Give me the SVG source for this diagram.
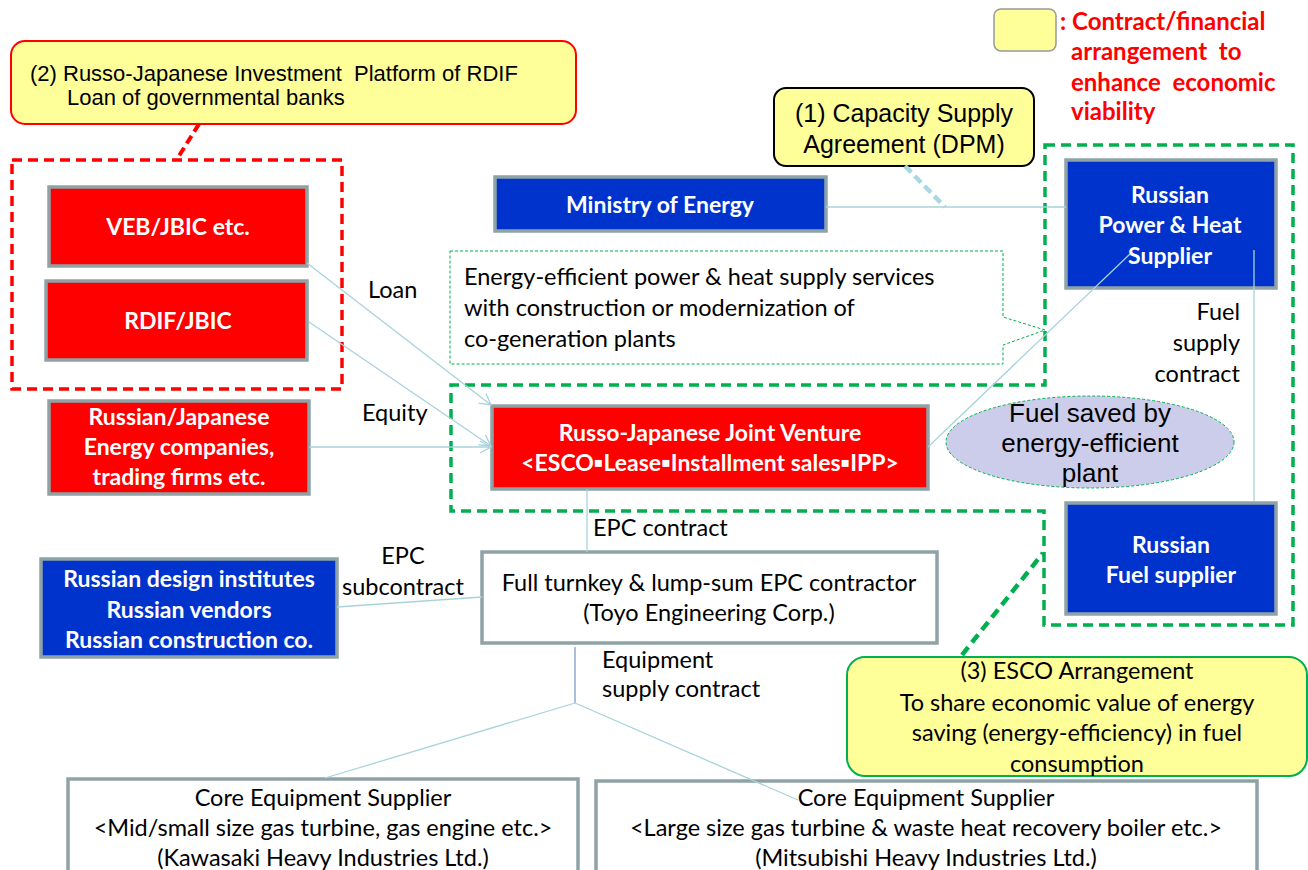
<svg xmlns="http://www.w3.org/2000/svg" width="1308" height="870" viewBox="0 0 1308 870">
<defs>
<marker id="arr" markerWidth="14" markerHeight="14" refX="12" refY="7" orient="auto" markerUnits="userSpaceOnUse">
<path d="M1,1 L12,7 L1,13" fill="none" stroke="#A8D3DB" stroke-width="1.3"/>
</marker>
<style>
.box{stroke:#8FA3A7;stroke-width:3.5}
.red{fill:#FF0000}
.blue{fill:#0033CC}
.white{fill:#FFFFFF}
.bt{font-family:Lato,"Liberation Sans",sans-serif;font-weight:bold;font-size:23px;fill:#FFFFFF;text-anchor:middle}
.t{font-family:Lato,"Liberation Sans",sans-serif;font-size:23.5px;fill:#000000}
.a{font-family:"Liberation Sans",Arial,sans-serif;fill:#000000}
.con{stroke:#A8D3DB;stroke-width:1.3;fill:none}
.note{fill:#FFFF99}
</style>
</defs>
<rect width="1308" height="870" fill="#FFFFFF"/>

<g id="legend">
<rect x="994" y="9" width="62" height="42" rx="7" class="note" stroke="#999999" stroke-width="1.5"/>
<text font-family="Lato,'Liberation Sans',sans-serif" font-weight="bold" font-size="24" fill="#FF0000">
<tspan x="1060" y="30">: Contract/financial</tspan>
<tspan x="1071" y="60">arrangement &#160;to</tspan>
<tspan x="1071" y="91">enhance &#160;economic</tspan>
<tspan x="1071" y="120">viability</tspan>
</text>
</g>

<g id="callout2">
<rect x="11" y="41" width="565" height="83" rx="14" class="note" stroke="#FF0000" stroke-width="2"/>
<text class="a" font-size="22"><tspan x="30" y="81">(2) Russo-Japanese Investment &#160;Platform of RDIF</tspan><tspan x="67" y="105">Loan of governmental banks</tspan></text>
</g>

<g id="group-finance">
<rect x="12" y="160" width="330" height="229" fill="none" stroke="#FF0000" stroke-width="3.5" stroke-dasharray="10,6"/>
</g>

<g id="veb">
<rect x="49" y="187" width="258" height="79" class="box red"/>
<text class="bt" x="178" y="235">VEB/JBIC etc.</text>
</g>
<g id="rdif">
<rect x="46" y="281" width="261" height="79" class="box red"/>
<text class="bt" x="178" y="329">RDIF/JBIC</text>
</g>
<g id="energy-companies">
<rect x="49" y="401" width="260" height="93" class="box red"/>
<text class="bt" x="179" y="425">Russian/Japanese</text>
<text class="bt" x="179" y="455">Energy companies,</text>
<text class="bt" x="179" y="485">trading firms etc.</text>
</g>

<g id="callout1">
<rect x="774" y="88" width="260" height="78" rx="12" class="note" stroke="#000000" stroke-width="2"/>
<text class="a" font-size="25" text-anchor="middle"><tspan x="904" y="122">(1) Capacity Supply</tspan><tspan x="904" y="153">Agreement (DPM)</tspan></text>
</g>

<g id="ministry">
<rect x="495" y="177" width="331" height="54" class="box blue"/>
<text class="bt" x="660" y="213">Ministry of Energy</text>
</g>

<g id="esco-boundary">
<path d="M1045,145 L1293,145 L1293,625 L1044,625 L1044,511 L451,511 L451,385 L1045,385 Z" fill="none" stroke="#00B050" stroke-width="3.5" stroke-dasharray="10,6"/>
</g>

<g id="service-note">
<path d="M450,251 L1003,251 L1003,317 L1045,330 L1003,345 L1003,364 L450,364 Z" fill="#FFFFFF" stroke="#00B050" stroke-width="1" stroke-dasharray="3,2"/>
<text class="t" font-size="24.5"><tspan x="464" y="285">Energy-efficient power &amp; heat supply services</tspan><tspan x="464" y="316">with construction or modernization of</tspan><tspan x="464" y="347">co-generation plants</tspan></text>
</g>

<g id="power-heat">
<rect x="1066" y="160" width="210" height="128" class="box blue"/>
<text class="bt" x="1170" y="203">Russian</text>
<text class="bt" x="1170" y="233">Power &amp; Heat</text>
<text class="bt" x="1170" y="264">Supplier</text>
</g>

<g id="joint-venture">
<rect x="492" y="406" width="436" height="83" class="box red"/>
<text class="bt" x="710" y="441">Russo-Japanese Joint Venture</text>
<text class="bt" x="710" y="471">&lt;ESCO▪Lease▪Installment sales▪IPP&gt;</text>
</g>

<g id="fuel-saved">
<ellipse cx="1090" cy="442" rx="144" ry="46" fill="#CCCCEB" stroke="#00B050" stroke-width="1" stroke-dasharray="3,2"/>
<text class="a" font-size="26" text-anchor="middle"><tspan x="1090" y="422">Fuel saved by</tspan><tspan x="1090" y="452">energy-efficient</tspan><tspan x="1090" y="482">plant</tspan></text>
</g>

<g id="fuel-supplier">
<rect x="1066" y="503" width="210" height="111" class="box blue"/>
<text class="bt" x="1171" y="553">Russian</text>
<text class="bt" x="1171" y="583">Fuel supplier</text>
</g>

<g id="russian-design">
<rect x="41" y="559" width="296" height="98" class="box blue"/>
<text class="bt" x="189" y="587">Russian design institutes</text>
<text class="bt" x="189" y="618">Russian vendors</text>
<text class="bt" x="189" y="648">Russian construction co.</text>
</g>

<g id="epc">
<rect x="482" y="552" width="455" height="91" class="box white"/>
<text class="t" x="709" y="591" text-anchor="middle">Full turnkey &amp; lump-sum EPC contractor</text>
<text class="t" x="709" y="621" text-anchor="middle">(Toyo Engineering Corp.)</text>
</g>

<g id="callout3">
<rect x="847" y="657" width="460" height="119" rx="18" class="note" stroke="#00B050" stroke-width="2"/>
<text class="t" font-size="24" text-anchor="middle"><tspan x="1077" y="679">(3) ESCO Arrangement</tspan><tspan x="1077" y="711">To share economic value of energy</tspan><tspan x="1077" y="741">saving (energy-efficiency) in fuel</tspan><tspan x="1077" y="772">consumption</tspan></text>
</g>

<g id="kawasaki">
<rect x="68" y="779" width="510" height="110" class="box white"/>
<text class="t" x="323" y="806" text-anchor="middle">Core Equipment Supplier</text>
<text class="t" x="323" y="836" text-anchor="middle">&lt;Mid/small size gas turbine, gas engine etc.&gt;</text>
<text class="t" x="323" y="866" text-anchor="middle">(Kawasaki Heavy Industries Ltd.)</text>
</g>

<g id="mitsubishi">
<rect x="596" y="781" width="661" height="110" class="box white"/>
<text class="t" x="926" y="806" text-anchor="middle">Core Equipment Supplier</text>
<text class="t" x="926" y="836" text-anchor="middle">&lt;Large size gas turbine &amp; waste heat recovery boiler etc.&gt;</text>
<text class="t" x="926" y="866" text-anchor="middle">(Mitsubishi Heavy Industries Ltd.)</text>
</g>

<g id="connectors">
<line class="con" x1="307" y1="263" x2="491" y2="405" marker-end="url(#arr)"/>
<line class="con" x1="309" y1="322" x2="491" y2="446" marker-end="url(#arr)"/>
<line class="con" x1="309" y1="447" x2="491" y2="447" marker-end="url(#arr)"/>
<line class="con" x1="826" y1="207" x2="1066" y2="207"/>
<line class="con" x1="928" y1="447" x2="1130" y2="254"/>
<line class="con" x1="1254" y1="250" x2="1254" y2="501"/>
<line class="con" x1="587" y1="489" x2="587" y2="552"/>
<line class="con" x1="337" y1="607" x2="482" y2="597"/>
<line x1="575" y1="647" x2="575" y2="703" stroke="#7A9CCB" stroke-width="1.3"/>
<line class="con" x1="575" y1="703" x2="325" y2="778"/>
<line class="con" x1="575" y1="703" x2="798" y2="800"/>
<line x1="199" y1="124" x2="177" y2="159" stroke="#FF0000" stroke-width="4" stroke-dasharray="9,5"/>
<line x1="905" y1="166" x2="945" y2="207" stroke="#A9D8E0" stroke-width="4.5" stroke-dasharray="9,5"/>
<line x1="962" y1="655" x2="1043" y2="553" stroke="#00B050" stroke-width="4.5" stroke-dasharray="10,6"/>
<text class="t" x="368" y="298">Loan</text>
<text class="t" x="362" y="421">Equity</text>
<text class="t" x="1240" y="320" text-anchor="end">Fuel</text>
<text class="t" x="1240" y="351" text-anchor="end">supply</text>
<text class="t" x="1240" y="382" text-anchor="end">contract</text>
<text class="t" x="593" y="536">EPC contract</text>
<text class="t" x="403" y="564" text-anchor="middle">EPC</text>
<text class="t" x="403" y="595" text-anchor="middle">subcontract</text>
<text class="t" x="602" y="668">Equipment</text>
<text class="t" x="602" y="697">supply contract</text>
</g>
</svg>
